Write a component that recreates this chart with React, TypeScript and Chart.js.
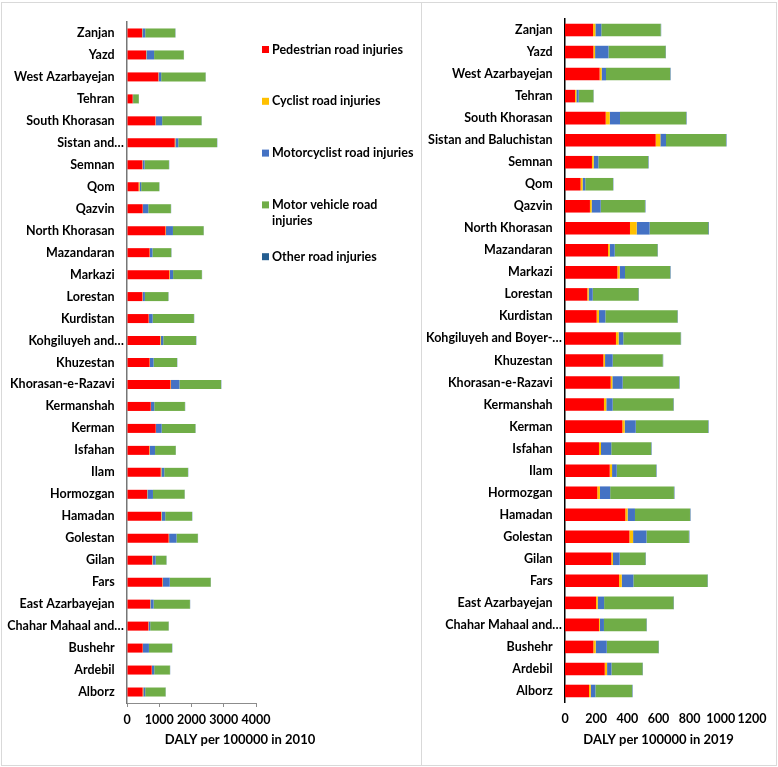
import React, { useEffect, useRef } from 'react';
import { Chart, registerables } from 'chart.js';

Chart.register(...registerables);

const FONT = 'Lato';

const labels2010 = [
  'Zanjan', 'Yazd', 'West Azarbayejan', 'Tehran', 'South Khorasan', 'Sistan and…', 'Semnan', 'Qom', 'Qazvin',
  'North Khorasan', 'Mazandaran', 'Markazi', 'Lorestan', 'Kurdistan', 'Kohgiluyeh and…', 'Khuzestan',
  'Khorasan-e-Razavi', 'Kermanshah', 'Kerman', 'Isfahan', 'Ilam', 'Hormozgan', 'Hamadan', 'Golestan', 'Gilan',
  'Fars', 'East Azarbayejan', 'Chahar Mahaal and…', 'Bushehr', 'Ardebil', 'Alborz',
];

const labels2019 = [
  'Zanjan', 'Yazd', 'West Azarbayejan', 'Tehran', 'South Khorasan', 'Sistan and Baluchistan', 'Semnan', 'Qom', 'Qazvin',
  'North Khorasan', 'Mazandaran', 'Markazi', 'Lorestan', 'Kurdistan', 'Kohgiluyeh and Boyer-…', 'Khuzestan',
  'Khorasan-e-Razavi', 'Kermanshah', 'Kerman', 'Isfahan', 'Ilam', 'Hormozgan', 'Hamadan', 'Golestan', 'Gilan',
  'Fars', 'East Azarbayejan', 'Chahar Mahaal and…', 'Bushehr', 'Ardebil', 'Alborz',
];

const seriesNames = [
  'Pedestrian road injuries',
  'Cyclist road injuries',
  'Motorcyclist road injuries',
  'Motor vehicle road injuries',
  'Other road injuries',
];
const legendLines = [
  ['Pedestrian road injuries'],
  ['Cyclist road injuries'],
  ['Motorcyclist road injuries'],
  ['Motor vehicle road', 'injuries'],
  ['Other road injuries'],
];
const seriesColors = ['#FF0000', '#FFC000', '#4472C4', '#70AD47', '#255E91'];

// 2010 (top to bottom)
const pedestrian2010 = [465, 590, 970, 175, 880, 1480, 475, 360, 485, 1190, 700, 1310, 475, 670, 1025, 700, 1345, 735, 890, 690, 1045, 620, 1055, 1290, 775, 1095, 715, 660, 485, 765, 485];
const cyclist2010 = [10, 10, 10, 5, 10, 20, 10, 30, 10, 20, 10, 20, 10, 10, 20, 10, 20, 10, 10, 15, 20, 10, 15, 15, 15, 15, 10, 10, 10, 10, 20];
const motorcyclist2010 = [90, 240, 80, 10, 200, 90, 60, 50, 165, 215, 80, 100, 70, 115, 80, 115, 260, 100, 175, 165, 90, 175, 115, 230, 100, 215, 100, 50, 185, 70, 60];
const motorVehicle2010 = [930, 920, 1375, 175, 1220, 1200, 755, 560, 700, 950, 580, 890, 725, 1280, 1015, 725, 1290, 950, 1045, 640, 735, 980, 830, 660, 330, 1270, 1125, 570, 715, 485, 630];
const other2010 = [8, 8, 8, 6, 8, 8, 8, 6, 8, 8, 8, 8, 8, 8, 8, 8, 8, 8, 8, 8, 8, 8, 8, 8, 8, 8, 8, 8, 8, 8, 8];

// 2019 (top to bottom)
const pedestrian2019 = [180, 182, 222, 64, 261, 582, 173, 100, 160, 417, 276, 336, 143, 203, 327, 246, 293, 250, 368, 218, 287, 207, 387, 413, 297, 347, 199, 218, 182, 255, 154];
const cyclist2019 = [15, 11, 13, 9, 26, 30, 11, 13, 11, 43, 11, 15, 9, 15, 17, 11, 11, 15, 15, 13, 15, 17, 15, 24, 11, 17, 11, 6, 15, 15, 11];
const motorcyclist2019 = [38, 86, 28, 15, 66, 36, 30, 17, 58, 83, 32, 34, 26, 41, 30, 49, 66, 41, 71, 66, 30, 66, 47, 86, 43, 75, 41, 26, 71, 28, 30];
const motorVehicle2019 = [381, 366, 411, 94, 424, 385, 319, 178, 284, 376, 274, 289, 293, 462, 368, 321, 362, 389, 464, 255, 252, 409, 353, 272, 165, 475, 445, 272, 332, 199, 235];
const other2019 = [3, 3, 3, 2, 3, 3, 3, 2, 3, 4, 3, 3, 3, 3, 3, 3, 3, 3, 3, 3, 3, 3, 3, 3, 3, 3, 3, 3, 3, 3, 3];

const xTicks2010 = { min: 0, max: 4000, step: 1000 };
const xTicks2019 = { min: 0, max: 1200, step: 200 };
const title2010 = 'DALY per 100000 in 2010';
const title2019 = 'DALY per 100000 in 2019';

const padLabel = (s: string) => (s.endsWith('…') ? s : s + '\u2002\u2009\u2009');

function makeDatasets(series: number[][], pct: number) {
  return series.map((d, i) => ({
    label: seriesNames[i],
    data: d,
    backgroundColor: seriesColors[i],
    borderWidth: 0,
    categoryPercentage: 1,
    barPercentage: pct,
  }));
}

const leftExtras = {
  id: 'leftExtras',
  afterDraw(chart: any) {
    const ctx = chart.ctx as CanvasRenderingContext2D;
    const area = chart.chartArea;
    ctx.save();
    ctx.font = `bold 12.5px ${FONT}`;
    ctx.textBaseline = 'middle';
    ctx.textAlign = 'left';
    const x0 = area.right + 6;
    legendLines.forEach((lines, i) => {
      const y = area.top + 27.5 + i * 51.8;
      ctx.fillStyle = seriesColors[i];
      ctx.fillRect(x0, y - 3.5, 7, 7);
      ctx.fillStyle = '#000';
      lines.forEach((ln, j) => ctx.fillText(ln, x0 + 10, y + j * 16.4));
    });
    ctx.font = `bold 13px ${FONT}`;
    ctx.textAlign = 'center';
    ctx.fillText(title2010, area.left + 113, area.bottom + 37);
    ctx.restore();
  },
};

export default function App() {
  const leftRef = useRef<HTMLCanvasElement>(null);
  const rightRef = useRef<HTMLCanvasElement>(null);

  useEffect(() => {
    const tickFont = { family: FONT, weight: 'bold' as const, size: 12.5 };
    const fmt = (v: any) => String(v);
    const left = new Chart(leftRef.current!, {
      type: 'bar',
      data: {
        labels: labels2010,
        datasets: makeDatasets([pedestrian2010, cyclist2010, motorcyclist2010, motorVehicle2010, other2010], 0.41),
      },
      options: {
        indexAxis: 'y',
        animation: false,
        responsive: false,
        maintainAspectRatio: false,
        layout: { padding: { left: 0, top: 22, right: 165, bottom: 24 } },
        plugins: { legend: { display: false }, tooltip: { enabled: false } },
        scales: {
          x: {
            stacked: true,
            min: xTicks2010.min,
            max: xTicks2010.max,
            ticks: { stepSize: xTicks2010.step, padding: 5.5, color: '#000', font: tickFont, maxRotation: 0, autoSkip: false, callback: fmt },
            grid: { drawOnChartArea: false, drawTicks: true, tickLength: 4, color: '#8c8c8c' },
            border: { display: true, color: '#8c8c8c' },
            afterFit: (s: any) => { s.height = 40; },
          },
          y: {
            stacked: true,
            ticks: { padding: 3, autoSkip: false, color: '#000', font: tickFont, callback: (_v: any, i: number) => padLabel(labels2010[i]) },
            grid: { display: false, drawTicks: false },
            border: { display: true, color: '#767676', width: 1.5 },
            afterFit: (s: any) => { s.width = 127; },
          },
        },
      },
      plugins: [leftExtras],
    } as any);

    const right = new Chart(rightRef.current!, {
      type: 'bar',
      data: {
        labels: labels2019,
        datasets: makeDatasets([pedestrian2019, cyclist2019, motorcyclist2019, motorVehicle2019, other2019], 0.57),
      },
      options: {
        indexAxis: 'y',
        animation: false,
        responsive: false,
        maintainAspectRatio: false,
        layout: { padding: { left: 0, top: 19, right: 26, bottom: 15 } },
        plugins: { legend: { display: false }, tooltip: { enabled: false } },
        scales: {
          x: {
            stacked: true,
            min: xTicks2019.min,
            max: xTicks2019.max,
            ticks: { stepSize: xTicks2019.step, padding: 9.5, color: '#000', font: tickFont, maxRotation: 0, autoSkip: false, callback: fmt },
            grid: { display: false, drawTicks: false },
            border: { display: false },
            title: { display: true, text: title2019, color: '#000', font: { family: FONT, weight: 'bold', size: 13 }, padding: { top: 0, bottom: 4 } },
            afterFit: (s: any) => { s.height = 50; },
          },
          y: {
            stacked: true,
            ticks: { padding: 3, autoSkip: false, color: '#000', font: tickFont, callback: (_v: any, i: number) => padLabel(labels2019[i]) },
            grid: { display: false, drawTicks: false },
            border: { display: true, color: '#000', width: 1.5 },
            afterFit: (s: any) => { s.width = 143; },
          },
        },
      },
    } as any);

    return () => { left.destroy(); right.destroy(); };
  }, []);

  return (
    <div style={{ position: 'absolute', left: 0, top: 0, width: 778, height: 767, background: '#fff', overflow: 'hidden' }}>
      <div style={{ position: 'absolute', left: 1, top: 2, width: 421, height: 764, border: '1px solid #d9d9d9', boxSizing: 'border-box' }} />
      <div style={{ position: 'absolute', left: 421, top: 2, width: 356, height: 764, border: '1px solid #d9d9d9', boxSizing: 'border-box' }} />
      <canvas ref={leftRef} width={421} height={767} style={{ position: 'absolute', left: 0, top: 0, width: 421, height: 767 }} />
      <canvas ref={rightRef} width={356} height={767} style={{ position: 'absolute', left: 422, top: 0, width: 356, height: 767 }} />
    </div>
  );
}
